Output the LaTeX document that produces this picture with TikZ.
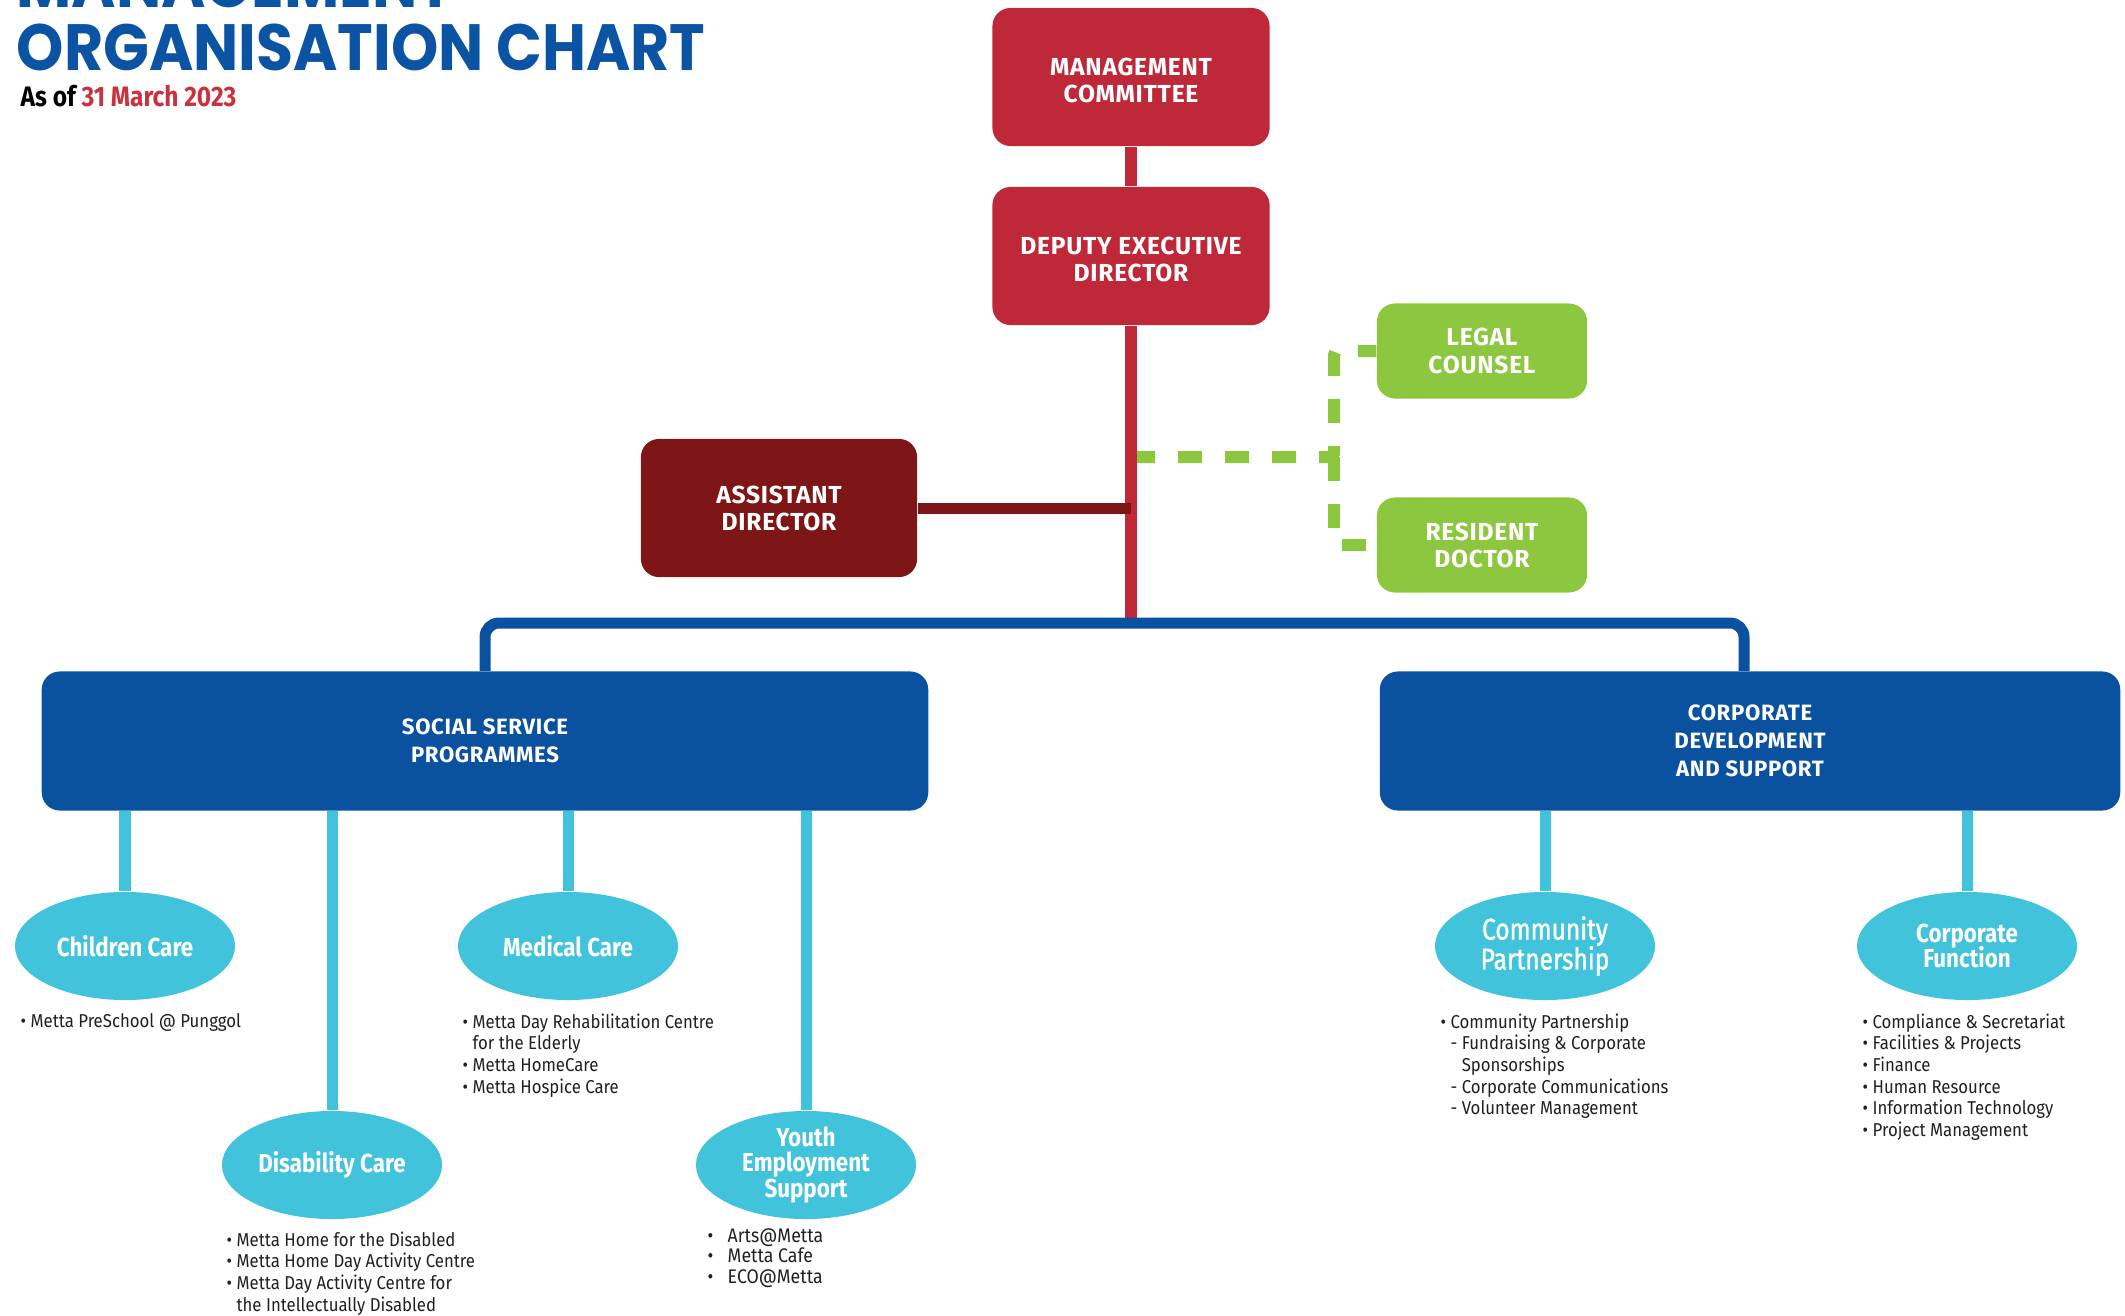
\documentclass[tikz,border=0pt]{standalone}
\usepackage{fontspec}
\setmainfont{Fira Sans}
\newfontfamily\headfont{Fira Sans}[FakeStretch=0.86]
\newfontfamily\capsfont{Fira Sans}[LetterSpace=3]
\newfontfamily\boxfont{Fira Sans}[FakeStretch=0.87]
\newfontfamily\notefont{Fira Sans}[FakeStretch=0.9]
\newfontfamily\partfont{Fira Sans}[FakeStretch=0.82,FakeBold=1.2]
\newfontfamily\titlefont{Poppins}[FakeStretch=0.92]
\usetikzlibrary{shapes.geometric}

\definecolor{mettared}{RGB}{190,40,56}
\definecolor{mettamaroon}{RGB}{126,21,22}
\definecolor{mettagreen}{RGB}{141,198,63}
\definecolor{mettablue}{RGB}{10,82,160}
\definecolor{mettacyan}{RGB}{66,195,220}
\definecolor{titleblue}{RGB}{11,84,164}
\definecolor{datered}{RGB}{200,50,62}
\definecolor{notegrey}{RGB}{35,31,32}

\newcommand\topbf{\capsfont\bfseries\fontsize{7}{7.7}\selectfont\lineskiplimit=-10pt}
\newcommand\headbf{\capsfont\bfseries\fontsize{6.3}{8}\selectfont\lineskiplimit=-10pt}
\newcommand\unitbf{\headfont\bfseries\fontsize{7.4}{7.2}\selectfont\lineskiplimit=-10pt}
\newcommand\notetext{\notefont\fontsize{5.3}{6.15}\selectfont\lineskiplimit=-10pt}
\newcommand\hang{\hphantom{\textbullet\ }}
\newcommand\lift{\rule{0pt}{0.25cm}}

\begin{document}
\begin{tikzpicture}[x=0.01cm,y=-0.01cm,
  headbox/.style={rectangle,rounded corners=0.18cm,text=white,align=center,inner sep=0pt,font=\topbf},
  redbox/.style={headbox,fill=mettared,minimum width=2.77cm,minimum height=1.38cm},
  maroonbox/.style={headbox,fill=mettamaroon,minimum width=2.76cm,minimum height=1.38cm},
  greenbox/.style={headbox,fill=mettagreen,minimum width=2.10cm,minimum height=0.95cm},
  bluebox/.style={headbox,fill=mettablue,minimum height=1.39cm,font=\headbf},
  unit/.style={ellipse,fill=mettacyan,text=white,align=center,inner sep=0pt,
    minimum width=2.20cm,minimum height=1.08cm,font=\unitbf},
  note/.style={anchor=north west,align=left,inner sep=0pt,text=notegrey,font=\notetext},
  redline/.style={mettared,line width=0.115cm},
  maroonline/.style={mettamaroon,line width=0.11cm},
  greendash/.style={mettagreen,line width=0.12cm,dash pattern=on 0.24cm off 0.23cm,rounded corners=0.04cm},
  blueline/.style={mettablue,line width=0.11cm,rounded corners=0.14cm},
  cyanline/.style={mettacyan,line width=0.11cm},
]
%%
\useasboundingbox (0,0) rectangle (2125,1315);
\node (node_title0) at (16,8) [anchor=base west,inner sep=0pt,text=titleblue,font=\titlefont\bfseries\fontsize{18.6}{18}\selectfont] {MANAGEMENT};
\node (node_title) at (16,70) [anchor=base west,inner sep=0pt,text=titleblue,font=\titlefont\bfseries\fontsize{18.6}{18}\selectfont] {ORGANISATION CHART};
\node (node_date) at (20,106) [anchor=base west,inner sep=0pt,font=\boxfont\bfseries\fontsize{8}{8}\selectfont] {As of \textcolor{datered}{31 March 2023}};

\node (node_mc) at (1131,77) [redbox] {\lift MANAGEMENT\\COMMITTEE};
\node (node_ded) at (1131,256) [redbox] {\lift DEPUTY EXECUTIVE\\DIRECTOR};
\node (node_ad) at (779,508) [maroonbox] {ASSISTANT\\DIRECTOR};
\node (node_legal) at (1482,351) [greenbox] {LEGAL\\COUNSEL};
\node (node_doc) at (1482,545) [greenbox] {RESIDENT\\DOCTOR};
\node (node_ssp) at (485,741) [bluebox,minimum width=8.86cm] {SOCIAL SERVICE\\PROGRAMMES};
\node (node_cds) at (1750,741) [bluebox,minimum width=7.40cm] {CORPORATE\\DEVELOPMENT\\AND SUPPORT};

\node (node_cc) at (125,946) [unit] {Children Care};
\node (node_med) at (568,946) [unit] {Medical Care};
\node (node_dc) at (332,1165) [unit] {Disability Care};
\node (node_yes) at (806,1165) [unit] {Youth\\Employment\\Support};
\node (node_cp) at (1545,946) [unit,font=\partfont\fontsize{8.5}{8.5}\selectfont] {Community\\Partnership};
\node (node_cf) at (1967,946) [unit] {Corporate\\Function};

\node (list_cc) at (20,1013) [note] {\textbullet\ Metta PreSchool @ Punggol};
\node (list_med) at (462,1013) [note] {\textbullet\ Metta Day Rehabilitation Centre\\\hang for the Elderly\\\textbullet\ Metta HomeCare\\\textbullet\ Metta Hospice Care};
\node (list_dc) at (226,1231) [note] {\textbullet\ Metta Home for the Disabled\\\textbullet\ Metta Home Day Activity Centre\\\textbullet\ Metta Day Activity Centre for\\\hang the Intellectually Disabled};
\node (list_yes) at (707,1228) [note,font=\notefont\fontsize{5.6}{5.8}\selectfont] {\makebox[0.2cm][l]{\textbullet}Arts@Metta\\\makebox[0.2cm][l]{\textbullet}Metta Cafe\\\makebox[0.2cm][l]{\textbullet}ECO@Metta};
\node (list_cp) at (1440,1013) [note] {\textbullet\ Community Partnership\\\hang- Fundraising \& Corporate\\\hang\hphantom{- }Sponsorships\\\hang- Corporate Communications\\\hang- Volunteer Management};
\node (list_cf) at (1862,1013) [note] {\textbullet\ Compliance \& Secretariat\\\textbullet\ Facilities \& Projects\\\textbullet\ Finance\\\textbullet\ Human Resource\\\textbullet\ Information Technology\\\textbullet\ Project Management};

\coordinate (bus) at (1131,623);
\coordinate (gsplit) at (1334,457);
\draw [greendash] (gsplit -| node_ded.south) -- (gsplit) |- (node_legal.west);
\draw [greendash] (gsplit) |- (node_doc.west);
\draw [redline] (node_mc) -- (node_ded);
\draw [redline] (node_ded) -- (bus);
\draw [maroonline] (node_ad.east) -- (node_ad.east -| node_ded.south);
\draw [blueline] (node_ssp.north) |- (bus) -| ([xshift=-0.06cm]node_cds.north);
\draw [cyanline] (node_cc) -- (node_cc |- node_ssp.south);
\draw [cyanline] (node_dc) -- (node_dc |- node_ssp.south);
\draw [cyanline] (node_med) -- (node_med |- node_ssp.south);
\draw [cyanline] (node_yes) -- (node_yes |- node_ssp.south);
\draw [cyanline] (node_cp) -- (node_cp |- node_cds.south);
\draw [cyanline] (node_cf) -- (node_cf |- node_cds.south);
%
\end{tikzpicture}
\end{document}
